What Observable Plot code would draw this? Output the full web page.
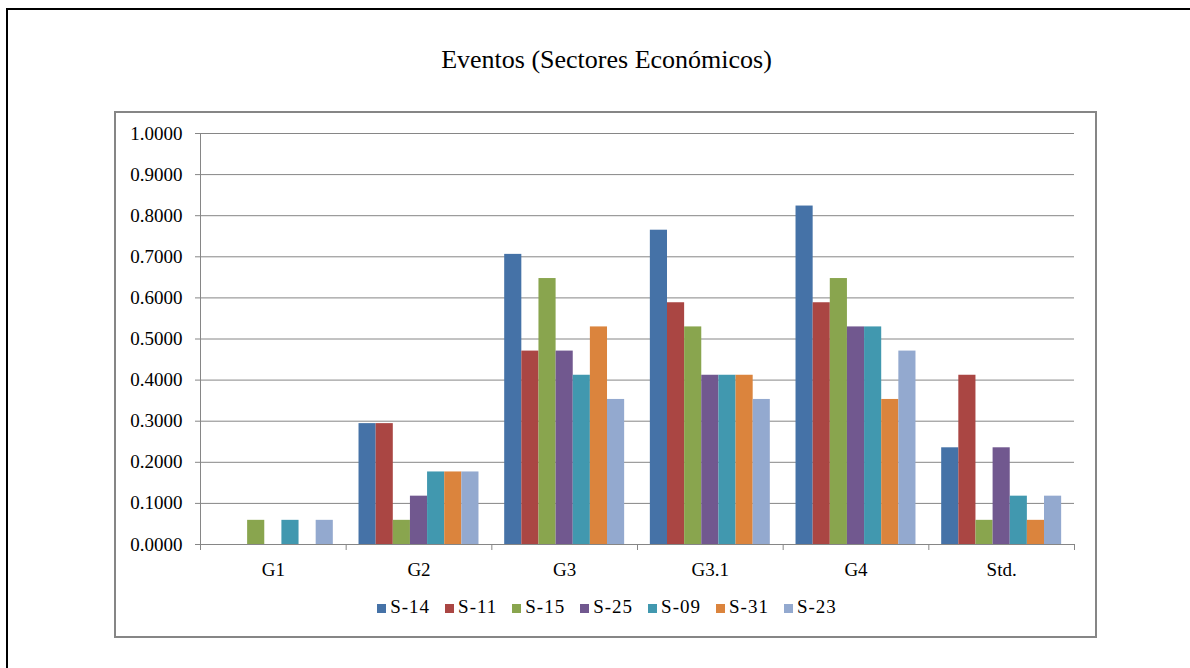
<!DOCTYPE html>
<html>
<head>
<meta charset="utf-8">
<script src="https://cdn.jsdelivr.net/npm/d3@7"></script>
<script src="https://cdn.jsdelivr.net/npm/@observablehq/plot@0.6"></script>
<style>
  html, body { margin: 0; padding: 0; background: #fff; }
  #page { position: relative; width: 1190px; height: 668px; overflow: hidden; font-family: "Liberation Serif", "Times New Roman", serif; color: #000; }
  #outer { position: absolute; left: 6px; top: 8px; width: 1400px; height: 900px; border: 2px solid #000; box-sizing: border-box; }
  #title { position: absolute; left: 0; width: 1213px; top: 44px; text-align: center; font-size: 26px; line-height: 32px; }
  #inner { position: absolute; left: 114px; top: 111px; width: 983px; height: 527px; border: 2px solid #868686; box-sizing: border-box; }
  #chart { position: absolute; left: 116px; top: 120px; }
  #chart svg, #chart svg text { font-family: "Liberation Serif", "Times New Roman", serif !important; }
  #legend { position: absolute; left: 0; width: 1214px; top: 596px; display: flex; justify-content: center; gap: 15px; font-size: 19px; line-height: 22px; letter-spacing: 1px; }
  .item { display: flex; align-items: center; gap: 4px; }
  .sw { width: 9px; height: 9px; margin-top: 3px; }
</style>
</head>
<body>
<div id="page">
  <div id="outer"></div>
  <div id="title">Eventos (Sectores Económicos)</div>
  <div id="inner"></div>
  <div id="chart"></div>
  <div id="legend"></div>
</div>
<script>
// Categories and series
const groups = ["G1", "G2", "G3", "G3.1", "G4", "Std."];
const seriesNames = ["S-14", "S-11", "S-15", "S-25", "S-09", "S-31", "S-23"];
const seriesColors = ["#4572A7", "#AA4643", "#89A54E", "#71588F", "#4198AF", "#DB843D", "#93A9CF"];

// Values per series, one entry per group
const s14 = [0.0000, 0.2941, 0.7059, 0.7647, 0.8235, 0.2353];
const s11 = [0.0000, 0.2941, 0.4706, 0.5882, 0.5882, 0.4118];
const s15 = [0.0588, 0.0588, 0.6471, 0.5294, 0.6471, 0.0588];
const s25 = [0.0000, 0.1176, 0.4706, 0.4118, 0.5294, 0.2353];
const s09 = [0.0588, 0.1765, 0.4118, 0.4118, 0.5294, 0.1176];
const s31 = [0.0000, 0.1765, 0.5294, 0.4118, 0.3529, 0.0588];
const s23 = [0.0588, 0.1765, 0.3529, 0.3529, 0.4706, 0.1176];

// Y axis tick values
const yTicks = [0, 0.1, 0.2, 0.3, 0.4, 0.5, 0.6, 0.7, 0.8, 0.9, 1.0];

const seriesValues = [s14, s11, s15, s25, s09, s31, s23];

// Clustered columns: each group occupies one unit on x; gap between clusters is 1.5 bar widths
const gapRatio = 1.5;
const slot = 1 / (seriesNames.length + gapRatio);
const rows = [];
groups.forEach((g, gi) => {
  seriesNames.forEach((s, si) => {
    const x1 = gi + slot * (gapRatio / 2 + si);
    rows.push({group: g, series: s, value: seriesValues[si][gi], x1, x2: x1 + slot});
  });
});

const axisGray = "#868686";
const serif = "Liberation Serif, Times New Roman, serif";
const chart = Plot.plot({
  width: 978,
  height: 460,
  marginLeft: 84,
  marginRight: 20,
  marginTop: 13,
  marginBottom: 36,
  style: {fontFamily: serif, fontSize: "19px", color: "#000", background: "transparent", overflow: "visible"},
  x: {type: "linear", domain: [0, groups.length], axis: null},
  y: {domain: [0, 1], axis: null},
  color: {domain: seriesNames, range: seriesColors},
  marks: [
    Plot.gridY(yTicks, {stroke: axisGray, strokeOpacity: 1}),
    Plot.rectY(rows, {x1: "x1", x2: "x2", y: "value", fill: "series"}),
    Plot.ruleX([0], {y1: 0, y2: 1, stroke: axisGray}),
    Plot.ruleY([0], {stroke: axisGray}),
    Plot.axisY(yTicks, {tickSize: 5, tickPadding: 13, stroke: axisGray, fill: "#000", fontFamily: serif, fontSize: 19, tickFormat: d3.format(".4f"), label: null}),
    Plot.axisX(d3.range(groups.length + 1), {tickSize: 6, stroke: axisGray, tickFormat: () => "", label: null}),
    Plot.axisX(groups.map((g, i) => i + 0.5), {tickSize: 0, tickPadding: 18, fill: "#000", fontFamily: serif, fontSize: 19, tickFormat: d => groups[Math.floor(d)], label: null})
  ]
});
document.getElementById("chart").appendChild(chart);

// Legend below the plot area
const legend = document.getElementById("legend");
seriesNames.forEach((s, i) => {
  const item = document.createElement("div");
  item.className = "item";
  const sw = document.createElement("span");
  sw.className = "sw";
  sw.style.background = seriesColors[i];
  const label = document.createElement("span");
  label.textContent = s;
  item.appendChild(sw);
  item.appendChild(label);
  legend.appendChild(item);
});
</script>
</body>
</html>
